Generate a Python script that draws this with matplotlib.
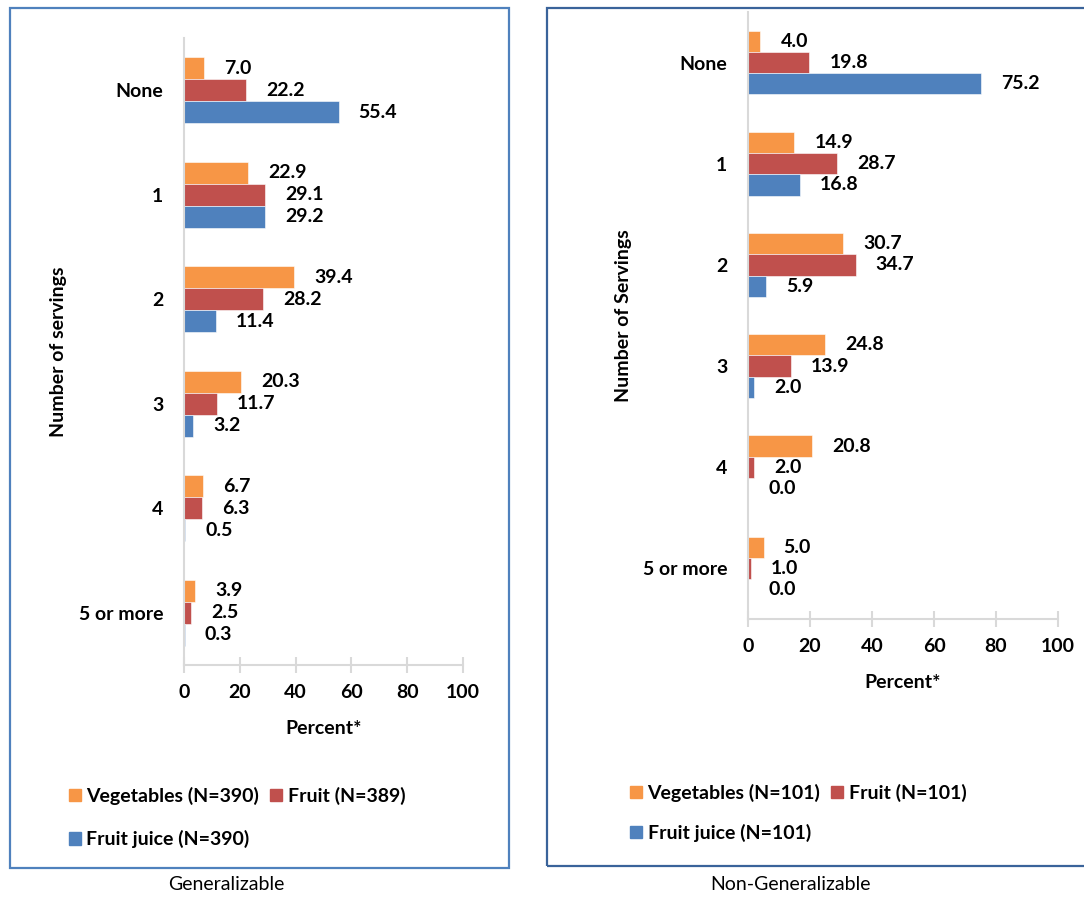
import matplotlib
matplotlib.use("Agg")
import matplotlib.pyplot as plt
from matplotlib.patches import Rectangle, Patch
import numpy as np

plt.rcParams['font.family'] = ['Lato', 'DejaVu Sans']

categories = ["None", "1", "2", "3", "4", "5 or more"]

gen_veg = [7.0, 22.9, 39.4, 20.3, 6.7, 3.9]
gen_fruit = [22.2, 29.1, 28.2, 11.7, 6.3, 2.5]
gen_juice = [55.4, 29.2, 11.4, 3.2, 0.5, 0.3]
gen_labels = ["Vegetables (N=390)", "Fruit (N=389)", "Fruit juice (N=390)"]

non_veg = [4.0, 14.9, 30.7, 24.8, 20.8, 5.0]
non_fruit = [19.8, 28.7, 34.7, 13.9, 2.0, 1.0]
non_juice = [75.2, 16.8, 5.9, 2.0, 0.0, 0.0]
non_labels = ["Vegetables (N=101)", "Fruit (N=101)", "Fruit juice (N=101)"]

x_ticks = [0, 20, 40, 60, 80, 100]

C_VEG = "#F79646"
C_FRUIT = "#C0504D"
C_JUICE = "#4F81BD"
AX_GRAY = "#D9D9D9"

W, H = 1084, 899
fig = plt.figure(figsize=(W / 100, H / 100), dpi=100)


def fx(px):
    return px / W


def fy(py):
    return 1 - py / H


# panel borders
fig.patches.append(Rectangle((fx(10), fy(868)), fx(509) - fx(10), fy(8) - fy(868),
                             transform=fig.transFigure, fill=False,
                             edgecolor="#4F81BD", linewidth=1.6))
fig.patches.append(Rectangle((fx(547), fy(866)), fx(1095) - fx(547), fy(8) - fy(866),
                             transform=fig.transFigure, fill=False,
                             edgecolor="#3A639A", linewidth=1.6))


def draw_panel(rect, veg, fruit, juice, labels, ylabel, ylabel_x, legend_xy, lspacing):
    ax = fig.add_axes(rect)
    y = np.arange(len(categories))
    h = 0.21
    series = [(veg, C_VEG, -h), (fruit, C_FRUIT, 0.0), (juice, C_JUICE, h)]
    handles = []
    for vals, col, off in series:
        bars = ax.barh(y + off, vals, height=h, color=col, edgecolor="white",
                       linewidth=0.4)
        for b, v in zip(bars, vals):
            ax.annotate(f"{v:.1f}", xy=(b.get_width(), b.get_y() + b.get_height() / 2),
                        xytext=(14.5, 0), textcoords="offset points",
                        ha="left", va="center", fontsize=14, fontweight="bold",
                        color="black")
    for lab, col in zip(labels, [C_VEG, C_FRUIT, C_JUICE]):
        handles.append(Patch(facecolor=col, edgecolor=col, label=lab))
    ax.set_xlim(0, 100)
    ax.set_ylim(len(categories) - 0.5, -0.5)
    ax.set_xticks(x_ticks)
    ax.set_xticklabels([str(t) for t in x_ticks], fontsize=14, fontweight="bold")
    ax.set_yticks(y)
    ax.set_yticklabels(categories, fontsize=14, fontweight="bold")
    ax.tick_params(axis="y", length=0, pad=15)
    ax.tick_params(axis="x", direction="inout", length=12, width=1.5,
                   color=AX_GRAY, pad=8)
    for s in ["top", "right"]:
        ax.spines[s].set_visible(False)
    for s in ["left", "bottom"]:
        ax.spines[s].set_color(AX_GRAY)
        ax.spines[s].set_linewidth(1.5)
    ax.set_xlabel("Percent*", fontsize=14, fontweight="bold", labelpad=13)
    ax.set_ylabel(ylabel, fontsize=14, fontweight="bold")
    ax.yaxis.set_label_coords(ylabel_x, 0.5)
    # legend: reorder so rows read Veg, Fruit / Juice
    order = [handles[0], handles[2], handles[1]]
    fig.legend(handles=order, labels=[hd.get_label() for hd in order],
               loc="upper left", bbox_to_anchor=legend_xy, ncol=2, frameon=False,
               prop={"size": 14, "weight": "bold"}, handlelength=0.6,
               handleheight=0.6, handletextpad=0.3, columnspacing=0.55,
               labelspacing=lspacing, borderpad=0, borderaxespad=0)
    return ax


draw_panel([fx(184), fy(665), fx(463) - fx(184), fy(38) - fy(665)],
           gen_veg, gen_fruit, gen_juice, gen_labels, "Number of servings",
           (67 - 184) / 279, (fx(69), fy(787)), 1.3)
draw_panel([fx(748), fy(619), fx(1058) - fx(748), fy(12) - fy(619)],
           non_veg, non_fruit, non_juice, non_labels, "Number of Servings",
           (632 - 748) / 310, (fx(630), fy(784)), 1.1)

fig.text(fx(226), fy(885), "Generalizable", ha="center", va="center", fontsize=14)
fig.text(fx(790), fy(885), "Non-Generalizable", ha="center", va="center", fontsize=14)

fig.savefig("out.png", dpi=100)
